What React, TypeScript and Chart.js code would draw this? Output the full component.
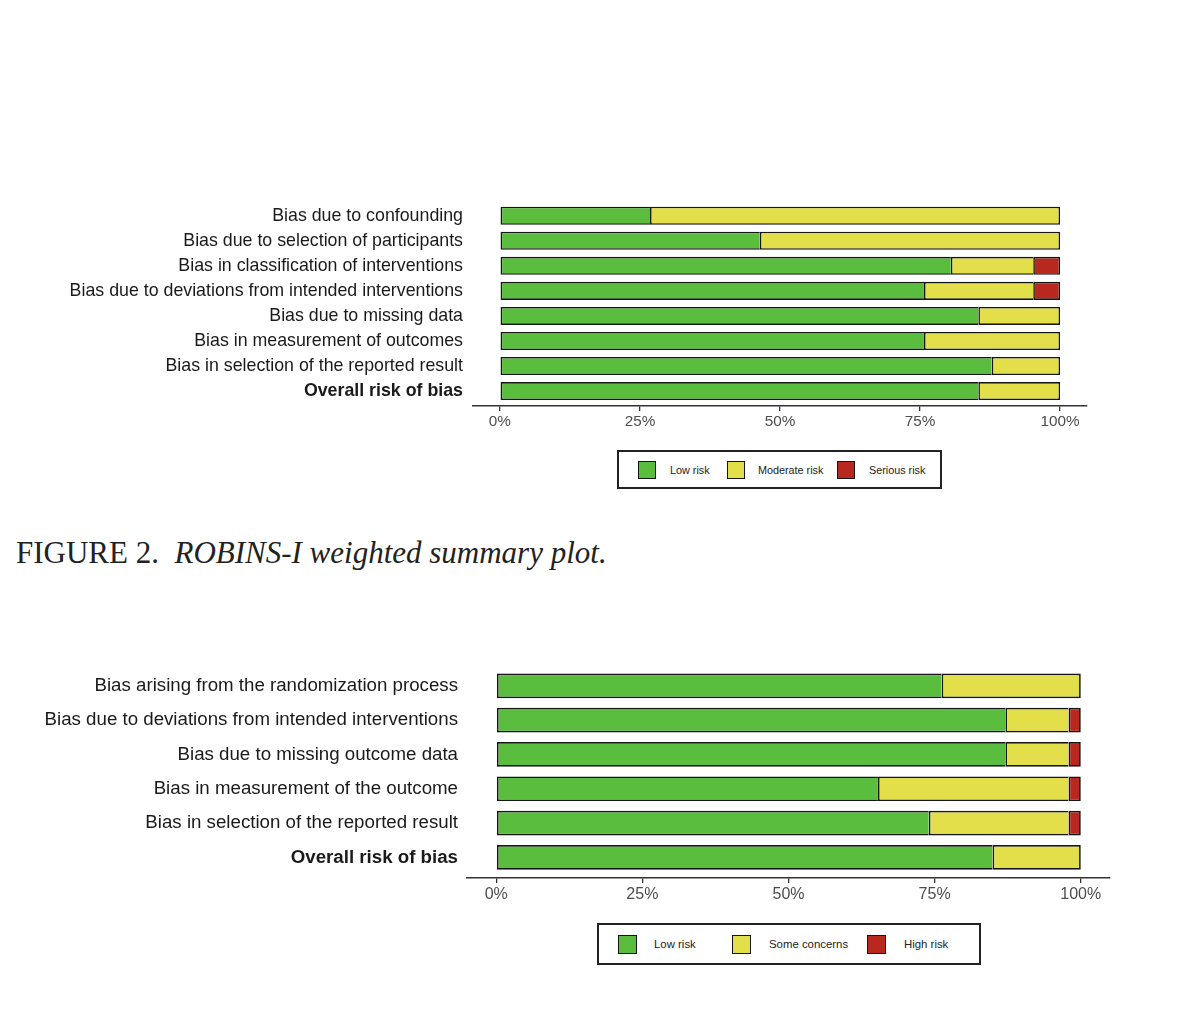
import React, { useEffect, useRef } from "react";
import { Chart, registerables } from "chart.js";

Chart.register(...registerables);

// ---------- DATA ----------
const robinsDomains = [
  "Bias due to confounding",
  "Bias due to selection of participants",
  "Bias in classification of interventions",
  "Bias due to deviations from intended interventions",
  "Bias due to missing data",
  "Bias in measurement of outcomes",
  "Bias in selection of the reported result",
  "Overall risk of bias",
];
const robinsLow = [26.8, 46.4, 80.5, 75.7, 85.4, 75.7, 87.8, 85.4];
const robinsModerate = [73.2, 53.6, 14.7, 19.5, 14.6, 24.3, 12.2, 14.6];
const robinsSerious = [0, 0, 4.8, 4.8, 0, 0, 0, 0];
const robinsLegend = ["Low risk", "Moderate risk", "Serious risk"];

const rob2Domains = [
  "Bias arising from the randomization process",
  "Bias due to deviations from intended interventions",
  "Bias due to missing outcome data",
  "Bias in measurement of the outcome",
  "Bias in selection of the reported result",
  "Overall risk of bias",
];
const rob2Low = [76.2, 87.1, 87.1, 65.3, 74.0, 84.9];
const rob2Some = [23.8, 10.8, 10.8, 32.6, 23.9, 15.1];
const rob2High = [0, 2.1, 2.1, 2.1, 2.1, 0];
const rob2Legend = ["Low risk", "Some concerns", "High risk"];

const xTickValues = [0, 25, 50, 75, 100];
const captionLead = "FIGURE 2.  ";
const captionItalic = "ROBINS-I weighted summary plot.";

// ---------- STYLE ----------
const riskColors = ["#5BBD3D", "#E3DF4B", "#B8281E"];
const SANS = "'Liberation Sans', Arial, Helvetica, sans-serif";
const SERIF = "'Liberation Serif', 'Times New Roman', serif";

type Geo = {
  canvasTop: number;
  canvasHeight: number;
  areaLeft: number;
  areaRight: number;
  areaTop: number;
  areaBottom: number;
  xMin: number;
  xMax: number;
  labelSize: number;
  labelPad: number;
  tickSize: number;
  tickPad: number;
  borderW: number;
};

const X_AXIS_H = 30;
const W = 1179;

function RiskChart(props: {
  domains: string[];
  series: number[][];
  names: string[];
  geo: Geo;
}) {
  const ref = useRef<HTMLCanvasElement | null>(null);
  const { domains, series, names, geo } = props;

  useEffect(() => {
    if (!ref.current) return;
    const last = domains.length - 1;
    const chart = new Chart(ref.current, {
      type: "bar",
      data: {
        labels: domains.map((_, i) => i),
        datasets: series.map((vals, di) => ({
          label: names[di],
          data: vals,
          backgroundColor: riskColors[di],
          borderColor: "#151515",
          borderSkipped: false,
          barPercentage: 0.72,
          categoryPercentage: 1,
          borderWidth: (ctx: any) => {
            const v = ctx.raw;
            if (!v) return 0;
            const later = series
              .slice(di + 1)
              .some((s) => s[ctx.dataIndex] > 0);
            const w = geo.borderW;
            return { top: w, bottom: w, left: w, right: later ? 0 : w };
          },
        })),
      },
      options: {
        indexAxis: "y",
        responsive: false,
        animation: false,
        layout: {
          padding: {
            top: geo.areaTop - geo.canvasTop,
            left: 0,
            right: W - geo.areaRight,
            bottom:
              geo.canvasTop + geo.canvasHeight - geo.areaBottom - X_AXIS_H,
          },
        },
        plugins: {
          legend: { display: false },
          tooltip: { enabled: false },
        },
        scales: {
          x: {
            type: "linear",
            stacked: true,
            offset: false,
            min: geo.xMin,
            max: geo.xMax,
            afterBuildTicks: (scale: any) => {
              scale.ticks = xTickValues.map((v) => ({ value: v }));
            },
            afterFit: (scale: any) => {
              scale.height = X_AXIS_H;
            },
            grid: {
              display: true,
              offset: false,
              drawOnChartArea: false,
              drawTicks: true,
              tickLength: 5,
              color: "#333333",
              lineWidth: 1.3,
            },
            border: { display: true, color: "#333333", width: 1.6 },
            ticks: {
              padding: geo.tickPad,
              color: "#4d4d4d",
              font: { family: SANS, size: geo.tickSize },
              maxRotation: 0,
              callback: (v: any) => `${v}%`,
            },
          },
          y: {
            type: "linear",
            stacked: true,
            reverse: true,
            offset: false,
            min: -0.6,
            max: last + 0.6,
            afterBuildTicks: (scale: any) => {
              scale.ticks = domains.map((_, i) => ({ value: i }));
            },
            afterFit: (scale: any) => {
              scale.width = geo.areaLeft;
            },
            grid: { display: false, drawTicks: false, offset: false },
            border: { display: false },
            ticks: {
              padding: geo.labelPad,
              color: "#1a1a1a",
              autoSkip: false,
              font: (ctx: any) => ({
                family: SANS,
                size: geo.labelSize,
                weight:
                  ctx.tick && ctx.tick.value === last ? "bold" : "normal",
              }),
              callback: (v: any) => domains[Number(v)] ?? "",
            },
          },
        },
      },
    } as any);
    return () => chart.destroy();
  }, []);

  return (
    <canvas
      ref={ref}
      width={W}
      height={geo.canvasHeight}
      style={{
        position: "absolute",
        left: 0,
        top: geo.canvasTop,
        width: W,
        height: geo.canvasHeight,
      }}
    />
  );
}

function Legend(props: {
  names: string[];
  box: { left: number; top: number; width: number; height: number };
  swatchX: number[];
  textX: number[];
  swatchTop: number;
  swatchSize: number;
  fontSize: number;
}) {
  const { names, box, swatchX, textX, swatchTop, swatchSize, fontSize } = props;
  const centerY = swatchTop + swatchSize / 2;
  return (
    <div>
      <div
        style={{
          position: "absolute",
          left: box.left,
          top: box.top,
          width: box.width,
          height: box.height,
          border: "2px solid #222",
          boxSizing: "border-box",
        }}
      />
      {names.map((n, i) => (
        <React.Fragment key={n}>
          <div
            style={{
              position: "absolute",
              left: swatchX[i],
              top: swatchTop,
              width: swatchSize,
              height: swatchSize,
              background: riskColors[i],
              border: "1.5px solid #151515",
              boxSizing: "border-box",
            }}
          />
          <div
            style={{
              position: "absolute",
              left: textX[i],
              top: centerY - fontSize * 0.6,
              lineHeight: `${fontSize * 1.2}px`,
              fontSize,
              fontFamily: SANS,
              color: "#222",
              whiteSpace: "nowrap",
            }}
          >
            {n}
          </div>
        </React.Fragment>
      ))}
    </div>
  );
}

const geo1: Geo = {
  canvasTop: 180,
  canvasHeight: 260,
  areaLeft: 473,
  areaRight: 1087,
  areaTop: 197.2,
  areaBottom: 406.1,
  xMin: -4.8,
  xMax: 104.8,
  labelSize: 17.8,
  labelPad: 10,
  tickSize: 15.3,
  tickPad: 1.8,
  borderW: 1.6,
};

const geo2: Geo = {
  canvasTop: 645,
  canvasHeight: 270,
  areaLeft: 467,
  areaRight: 1110,
  areaTop: 660.6,
  areaBottom: 878.0,
  xMin: -5,
  xMax: 105,
  labelSize: 18.7,
  labelPad: 9,
  tickSize: 16,
  tickPad: 1.7,
  borderW: 1.7,
};

export default function App() {
  return (
    <div
      style={{
        position: "fixed",
        left: 0,
        top: 0,
        width: W,
        height: 1009,
        background: "#ffffff",
        overflow: "hidden",
      }}
    >
      <RiskChart
        domains={robinsDomains}
        series={[robinsLow, robinsModerate, robinsSerious]}
        names={robinsLegend}
        geo={geo1}
      />
      <Legend
        names={robinsLegend}
        box={{ left: 617, top: 450, width: 325, height: 39 }}
        swatchX={[638, 727, 837]}
        textX={[670, 758, 869]}
        swatchTop={461}
        swatchSize={18}
        fontSize={10.8}
      />
      <div
        style={{
          position: "absolute",
          left: 16,
          top: 535,
          fontFamily: SERIF,
          fontSize: 31,
          lineHeight: "35px",
          color: "#222",
          whiteSpace: "pre",
        }}
      >
        {captionLead}
        <i>{captionItalic}</i>
      </div>
      <RiskChart
        domains={rob2Domains}
        series={[rob2Low, rob2Some, rob2High]}
        names={rob2Legend}
        geo={geo2}
      />
      <Legend
        names={rob2Legend}
        box={{ left: 597, top: 923, width: 384, height: 42 }}
        swatchX={[618, 732, 867]}
        textX={[654, 769, 904]}
        swatchTop={935}
        swatchSize={19}
        fontSize={11.4}
      />
    </div>
  );
}
